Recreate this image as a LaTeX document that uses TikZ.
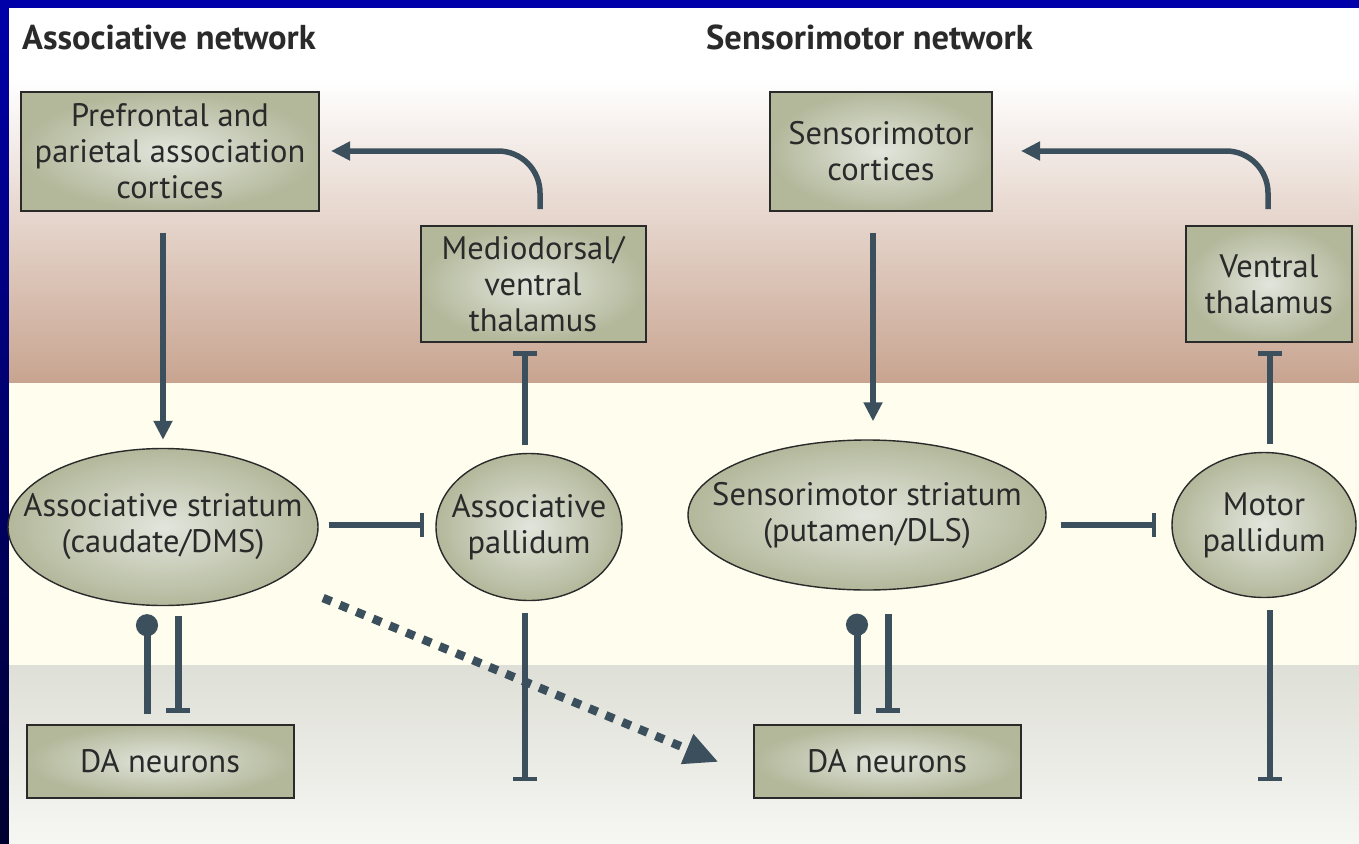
\documentclass[tikz,border=0pt]{standalone}
\usepackage{fontspec}
\setmainfont{PT Sans}
\usetikzlibrary{arrows.meta,shapes.geometric}
\definecolor{wire}{HTML}{3B4F5C}
\definecolor{frameblue}{HTML}{0000AA}
\definecolor{framedark}{HTML}{000030}
\definecolor{brownband}{HTML}{C8A490}
\definecolor{creamband}{HTML}{FEFDEE}
\definecolor{greytop}{HTML}{DEDFD6}
\definecolor{greybot}{HTML}{F6F6F3}
\definecolor{boxedge}{HTML}{B3B89B}
\definecolor{boxmid}{HTML}{E2E5DC}
\definecolor{ink}{HTML}{2A2A2A}
\tikzset{
  region/.style={draw=ink, line width=2pt, shading=radial, inner color=boxmid,
    outer color=boxedge, align=center, inner sep=0pt, text=ink,
    font=\fontsize{32.5}{36}\selectfont},
  oval/.style={region, ellipse, line width=1.4pt, inner sep=-60pt},
  heading/.style={anchor=base west, text=ink, inner sep=0pt,
    font=\bfseries\fontsize{34.5}{40}\selectfont},
  act/.style={draw=wire, line width=5.5pt, -{Triangle[length=19pt,width=18pt]}},
  inh/.style={draw=wire, line width=5.5pt, -{Bar[width=24pt,line width=4.5pt]}},
  inhb/.style={draw=wire, line width=7pt, -{Bar[width=24pt,line width=5pt]}},
  mod/.style={draw=wire, line width=7pt, -{Circle[length=22pt]}},
  spread/.style={draw=wire, line width=8.5pt, dash pattern=on 9pt off 9pt,
    -{Triangle[length=34pt,width=30pt]}}
}
\begin{document}
\begin{tikzpicture}[x=1pt,y=-1pt]
% page and frame
\useasboundingbox (0,0) rectangle (1359,843);
\fill[frameblue] (0,0) rectangle (1359,8);
\shade[top color=frameblue, bottom color=framedark] (0,0) rectangle (9,843);
% horizontal bands
\fill[white] (9,8) rectangle (1359,80);
\shade[top color=white, bottom color=brownband] (9,80) rectangle (1359,383);
\fill[creamband] (9,383) rectangle (1359,665);
\shade[top color=greytop, bottom color=greybot] (9,665) rectangle (1359,843);

% headings
\node[heading] (h1) at (22,50) {Associative network};
\node[heading] (h2) at (706,50) {Sensorimotor network};

% associative loop
\node[region, minimum width=298pt, minimum height=119pt] (pfc) at (170,151)
  {Prefrontal and\\parietal association\\cortices};
\node[region, minimum width=225pt, minimum height=116pt] (md) at (533,284)
  {Mediodorsal/\\ventral\\thalamus};
\node[oval, minimum width=310pt, minimum height=157pt] (astr) at (163,527)
  {Associative striatum\\(caudate/DMS)};
\node[oval, minimum width=186pt, minimum height=147pt] (apal) at (529,527)
  {Associative\\pallidum};
\node[region, minimum width=267pt, minimum height=73pt] (dal) at (160,761)
  {DA neurons};

% sensorimotor loop
\node[region, minimum width=222pt, minimum height=119pt] (sc) at (881,151)
  {Sensorimotor\\cortices};
\node[region, minimum width=166pt, minimum height=116pt] (vt) at (1269,284)
  {Ventral\\thalamus};
\node[oval, minimum width=358pt, minimum height=150pt] (ssr) at (867,515)
  {Sensorimotor striatum\\(putamen/DLS)};
\node[oval, minimum width=184pt, minimum height=145pt] (mpal) at (1264,525)
  {Motor\\pallidum};
\node[region, minimum width=267pt, minimum height=73pt] (dar) at (887,761)
  {DA neurons};

% free ends of the pallidal outputs
\coordinate (apalout) at (525,781);
\coordinate (mpalout) at (1270,781);

% associative connections
\draw[act] ([xshift=-7pt,yshift=-21pt]pfc.south) -- ([yshift=8pt]astr.north);
\draw[act, rounded corners=42pt] ([xshift=7pt,yshift=16pt]md.north)
  |- ([xshift=11pt]pfc.east);
\draw[inh] ([xshift=-4pt,yshift=8pt]apal.north) -- ([xshift=-8pt,yshift=-8pt]md.south);
\draw[inh] ([xshift=10pt,yshift=2pt]astr.east) -- ([xshift=-11pt,yshift=2pt]apal.west);
\draw[inh] ([xshift=-4pt,yshift=-12pt]apal.south) -- (apalout);
\draw[mod] ([xshift=-13pt,yshift=10pt]dal.north) -- ([xshift=-16pt,yshift=-8pt]astr.south);
\draw[inhb] ([xshift=15pt,yshift=-10pt]astr.south) -- ([xshift=18pt,yshift=11pt]dal.north);
\draw[spread] ([xshift=50pt,yshift=-15pt]astr.south east) -- ([xshift=-34pt,yshift=-1pt]dar.west);

% sensorimotor connections
\draw[act] ([xshift=-8pt,yshift=-21pt]sc.south) -- ([xshift=6pt,yshift=18pt]ssr.north);
\draw[act, rounded corners=42pt] ([xshift=-1pt,yshift=16pt]vt.north)
  |- ([xshift=28pt]sc.east);
\draw[inh] ([xshift=6pt,yshift=8pt]mpal.north) -- ([xshift=1pt,yshift=-8pt]vt.south);
\draw[inh] ([xshift=14pt,yshift=-10pt]ssr.east) -- ([xshift=-15pt]mpal.west);
\draw[inh] ([xshift=6pt,yshift=-12pt]mpal.south) -- (mpalout);
\draw[mod] ([xshift=-30pt,yshift=10pt]dar.north) -- ([xshift=-10pt,yshift=-23pt]ssr.south);
\draw[inhb] ([xshift=21pt,yshift=-23pt]ssr.south) -- ([xshift=1pt,yshift=11pt]dar.north);
\end{tikzpicture}
\end{document}
